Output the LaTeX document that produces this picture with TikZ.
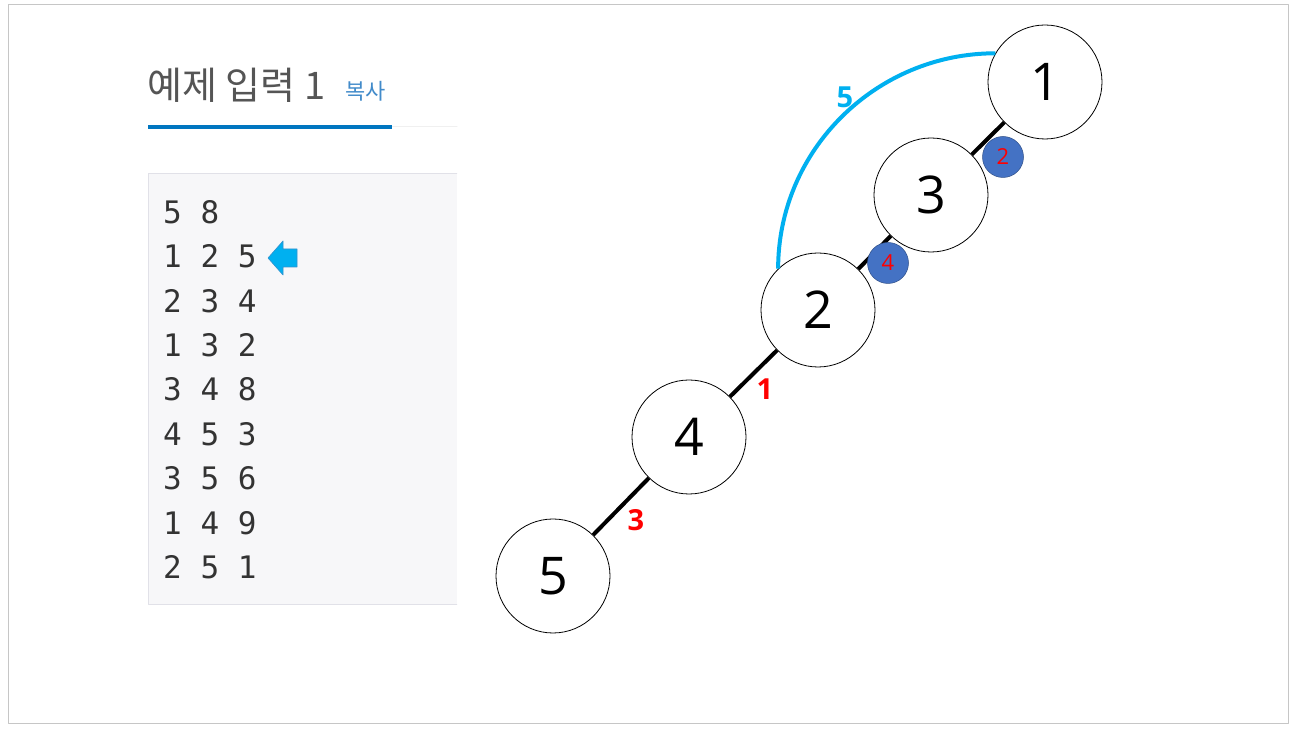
\documentclass[tikz,border=0pt]{standalone}
\usepackage{fontspec}
\setmainfont{Open Sans}
\setmonofont{DejaVu Sans Mono}
\newfontfamily\krfont{Noto Sans CJK KR}
\definecolor{titregris}{HTML}{555555}
\definecolor{bleulien}{HTML}{428BCA}
\definecolor{bleutrait}{HTML}{0076C0}
\definecolor{fondcode}{HTML}{F7F7F9}
\definecolor{bordcode}{HTML}{E1E1E8}
\definecolor{cyanvif}{HTML}{00B0F0}
\definecolor{bleupoids}{HTML}{4472C4}

\begin{document}
\begin{tikzpicture}[line cap=round,line join=round,x=1pt,y=1pt,
    sommet/.style={circle,draw=black,line width=0.8pt,fill=white,minimum size=114pt,inner sep=0pt,font=\fontsize{52}{52}\selectfont},
    poids/.style={circle,fill=bleupoids,draw=bleupoids!70!black,line width=0.5pt,minimum size=41pt,inner sep=0pt,text=red,font=\fontsize{22}{22}\selectfont},
    etiq/.style={font=\bfseries\fontsize{29}{29}\selectfont},
    arete/.style={line width=4pt,line cap=butt}]
	\useasboundingbox (0,0) rectangle (1291,730);
	\fill[white] (0,0) rectangle (1291,730);
	% Cadre
	\draw[color=gray!45] (8,7) rectangle (1288,726);
	% Titre
	\node[anchor=base west,inner sep=0pt,text=titregris,font=\krfont\fontsize{38}{38}\selectfont] (titre) at (147,630) {예제 입력 1};
	\node[anchor=base west,inner sep=0pt,text=bleulien,font=\krfont\fontsize{22}{22}\selectfont] (copie) at (345,630) {복사};
	\draw[color=gray!12,line width=1pt] (392,603)--(457,603);
	\draw[color=bleutrait,line width=4pt,line cap=butt] (148,603)--(392,603);
	% Boite de code
	\fill[fondcode] (148,126) rectangle (457,557);
	\draw[color=bordcode] (457,557)--(148,557)--(148,126)--(457,126);
	\foreach \ligne [count=\i from 0] in {{5 8},{1 2 5},{2 3 4},{1 3 2},{3 4 8},{4 5 3},{3 5 6},{1 4 9},{2 5 1}}
		\node[anchor=west,inner sep=0pt,text=black!80,font=\ttfamily\fontsize{31}{31}\selectfont] (ligne\i) at (163,518-44.4*\i) {\ligne};
	% Fleche
	\filldraw[fill=cyanvif,draw=bleutrait!80,line width=0.6pt] (268,472)--(283,489)--(283,481)--(297,481)--(297,463)--(283,463)--(283,455)--cycle;
	% Sommets
	\node[sommet] (n1) at (1045,648) {1};
	\node[sommet] (n3) at (931,535) {3};
	\node[sommet] (n2) at (818,420) {2};
	\node[sommet] (n4) at (689,293) {4};
	\node[sommet] (n5) at (553,154) {5};
	% Aretes
	\draw[arete] (n1)--(n3);
	\draw[arete] (n3)--(n2);
	\draw[arete] (n2)--(n4);
	\draw[arete] (n4)--(n5);
	\draw[color=cyanvif,line width=4pt,line cap=butt] (n2.134) .. controls +(0,119) and +(-119,0) .. (n1.150);
	% Poids
	\node[poids] (p2) at (1003,573) {2};
	\node[poids] (p4) at (888,467) {4};
	\node[etiq,text=red] (e1) at (765,341) {1};
	\node[etiq,text=red] (e3) at (636,210) {3};
	\node[etiq,text=cyanvif] (e5) at (845,633) {5};
\end{tikzpicture}
\end{document}
